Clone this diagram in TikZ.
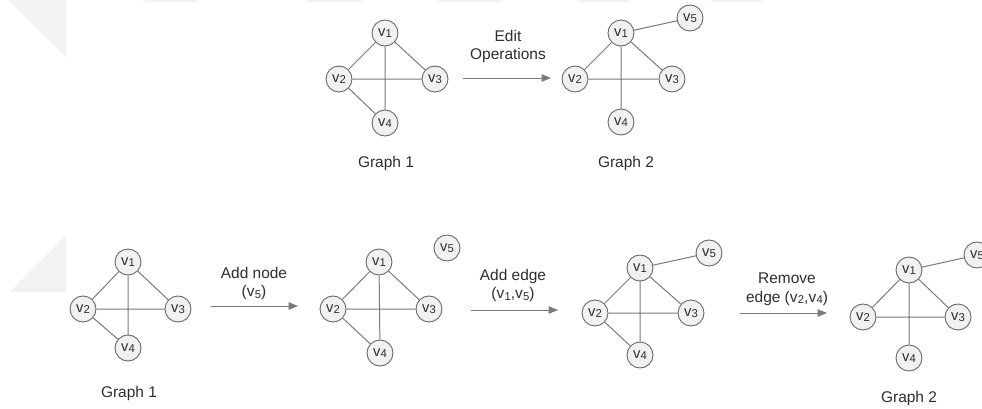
\documentclass[tikz,border=0pt]{standalone}
\usepackage{fontspec}
\setmainfont{Liberation Sans}
\usetikzlibrary{arrows.meta}
\definecolor{edgegray}{HTML}{7A7A7A}
\definecolor{ringgray}{HTML}{6A6A6A}
\definecolor{nodefill}{HTML}{F1F1F1}
\definecolor{inkgray}{HTML}{2E2E2E}
\definecolor{faint}{HTML}{F2F2F2}
\newcommand{\vx}[1]{v\kern0.2pt\raisebox{-0.2ex}{\fontsize{8.5}{8.5}\selectfont #1}}
\tikzset{
  vtx/.style={circle, draw=ringgray, fill=nodefill, line width=0.7pt,
    minimum size=19.5pt, inner sep=0pt, text=inkgray,
    font=\fontsize{11}{11}\selectfont},
  edg/.style={draw=edgegray, line width=0.75pt},
  step arrow/.style={draw=edgegray, line width=0.75pt,
    -{Triangle[length=7pt,width=5.5pt]}},
  caption/.style={text=inkgray, font=\fontsize{11.6}{14}\selectfont, inner sep=0pt},
  oplabel/.style={text=inkgray, font=\fontsize{11.6}{14}\selectfont, inner sep=0pt, align=center}
}
\begin{document}
\begin{tikzpicture}[x=0.75pt, y=-0.75pt]
\clip (0,0) rectangle (982,408);
\fill[white] (0,0) rectangle (982,408);

% faint background marks
\fill[faint] (8,0) -- (66,0) -- (66,57) -- cycle;
\fill[faint] (10,292) -- (66,235) -- (66,292) -- cycle;
\foreach \a/\b in {143/197, 307/363, 437/503, 577/630, 710/763}
  \fill[faint, rounded corners=2pt] (\a,-6) rectangle (\b,2);

% ---------- top row ----------
\node[vtx] (a1) at (385,33)  {\vx1};
\node[vtx] (a2) at (339,79)  {\vx2};
\node[vtx] (a3) at (435,79)  {\vx3};
\node[vtx] (a4) at (385,123) {\vx4};
\draw[edg] (a1) -- (a2) (a1) -- (a3) (a1) -- (a4) (a2) -- (a3) (a2) -- (a4);
\node[caption] (g1top) at (386,163) {Graph 1};

\coordinate (t0) at (463,78);
\coordinate (t1) at (551,78);
\draw[step arrow] (t0) -- (t1);
\node[oplabel] (editlbl) at (508,46.5) {Edit\\Operations};

\node[vtx] (b1) at (621,33)  {\vx1};
\node[vtx] (b2) at (575,79)  {\vx2};
\node[vtx] (b3) at (672,79)  {\vx3};
\node[vtx] (b4) at (621,122) {\vx4};
\node[vtx] (b5) at (690,18)  {\vx5};
\draw[edg] (b1) -- (b2) (b1) -- (b3) (b1) -- (b4) (b2) -- (b3) (b1) -- (b5);
\node[caption] (g2top) at (626,163) {Graph 2};

% ---------- bottom row ----------
\node[vtx] (c1) at (128,262) {\vx1};
\node[vtx] (c2) at (83,309)  {\vx2};
\node[vtx] (c3) at (178,309) {\vx3};
\node[vtx] (c4) at (128,348) {\vx4};
\draw[edg] (c1) -- (c2) (c1) -- (c3) (c1) -- (c4) (c2) -- (c3) (c2) -- (c4);
\node[caption] (g1bot) at (129,393) {Graph 1};

\coordinate (s0) at (211,306);
\coordinate (s1) at (298,306);
\draw[step arrow] (s0) -- (s1);
\node[oplabel] (addnode) at (254,283.5) {Add node\\(\vx5)};

\node[vtx] (d1) at (379,262) {\vx1};
\node[vtx] (d2) at (333,309) {\vx2};
\node[vtx] (d3) at (429,309) {\vx3};
\node[vtx] (d4) at (380,353) {\vx4};
\node[vtx] (d5) at (447,248) {\vx5};
\draw[edg] (d1) -- (d2) (d1) -- (d3) (d1) -- (d4) (d2) -- (d3) (d2) -- (d4);

\coordinate (u0) at (471,310);
\coordinate (u1) at (558,310);
\draw[step arrow] (u0) -- (u1);
\node[oplabel] (addedge) at (513,285.5) {Add edge\\(\vx1,\vx5)};

\node[vtx] (e1) at (640,268) {\vx1};
\node[vtx] (e2) at (595,313) {\vx2};
\node[vtx] (e3) at (691,313) {\vx3};
\node[vtx] (e4) at (640,355) {\vx4};
\node[vtx] (e5) at (709,253) {\vx5};
\draw[edg] (e1) -- (e2) (e1) -- (e3) (e1) -- (e4) (e2) -- (e3) (e2) -- (e4) (e1) -- (e5);

\coordinate (w0) at (740,313);
\coordinate (w1) at (827,313);
\draw[step arrow] (w0) -- (w1);
\node[oplabel] (rmedge) at (787,289) {Remove\\edge (\vx2,\vx4)};

\node[vtx] (f1) at (909,270) {\vx1};
\node[vtx] (f2) at (863,317) {\vx2};
\node[vtx] (f3) at (958,317) {\vx3};
\node[vtx] (f4) at (909,358) {\vx4};
\node[vtx] (f5) at (977,255) {\vx5};
\draw[edg] (f1) -- (f2) (f1) -- (f3) (f1) -- (f4) (f2) -- (f3) (f1) -- (f5);
\node[caption] (g2bot) at (909,398) {Graph 2};
\end{tikzpicture}
\end{document}
